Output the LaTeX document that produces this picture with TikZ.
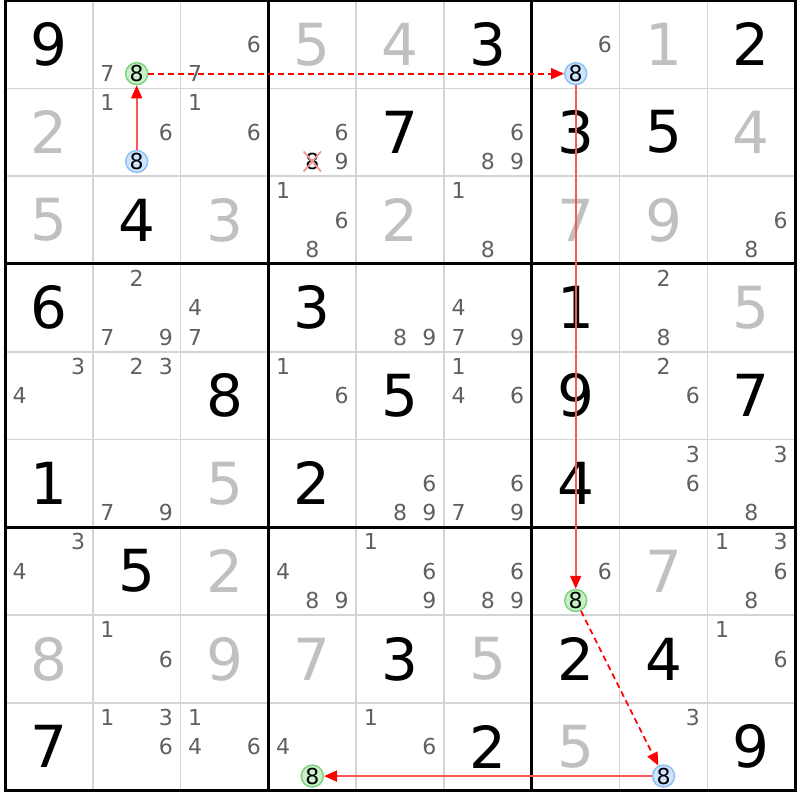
\documentclass[tikz,border=0pt]{standalone}
\usepackage{fontspec}
\setmainfont{DejaVu Sans}
\usetikzlibrary{arrows.meta,shapes.misc}
\definecolor{thingrid}{RGB}{212,212,212}
\definecolor{solvedcol}{RGB}{192,192,192}
\definecolor{candcol}{RGB}{96,96,96}
\definecolor{gfill}{RGB}{200,240,200}
\definecolor{gline}{RGB}{120,210,120}
\definecolor{bfill}{RGB}{204,228,255}
\definecolor{bline}{RGB}{140,190,240}
\definecolor{xpink}{RGB}{245,150,150}
\definecolor{linkred}{RGB}{255,85,85}
\newcommand\placecand[5]{%
  \pgfmathsetmacro\mypx{5+87.8*#2+14.6333*(2*mod(#3-1,3)+1)}%
  \pgfmathsetmacro\mypy{0.5+87.8*#1+14.6333*(2*int((#3-1)/3)+1)}%
  \node[#4] (#5) at (\mypx,\mypy) {#3};}
\begin{document}
\begin{tikzpicture}[x=1pt,y=-1pt,
  givendig/.style={inner sep=0pt, font=\fontsize{58}{58}\selectfont, text=black},
  solveddig/.style={givendig, text=solvedcol},
  canddig/.style={inner sep=0pt, font=\fontsize{22}{22}\selectfont, text=candcol},
  gcirc/.style={circle, draw=gline, fill=gfill, line width=1.4pt, minimum size=22pt, inner sep=0pt, font=\fontsize{22}{22}\selectfont, text=black},
  bcirc/.style={gcirc, draw=bline, fill=bfill},
  elim/.style={cross out, draw=xpink, line width=1.8pt, inner sep=0.8pt, font=\fontsize{22}{22}\selectfont, text=black},
  thinline/.style={draw=thingrid, line width=1.6pt},
  thickline/.style={draw=black, line width=3pt},
  solidlink/.style={draw=linkred, line width=1.7pt, -{Triangle[length=13pt,width=11pt,color=red]}},
  dashlink/.style={draw=red, line width=1.7pt, dash pattern=on 6pt off 4pt, -{Triangle[length=13pt,width=11pt,color=red]}}]
\useasboundingbox (0,0) rectangle (800,800);
\fill[white] (0,0) rectangle (800,800);
% grid
\foreach \k in {1,2,4,5,7,8} {
  \draw[thinline] ({5+87.8*\k},0.5) -- ({5+87.8*\k},790.7);
  \draw[thinline] (5,{0.5+87.8*\k}) -- (795.2,{0.5+87.8*\k});
}
\foreach \k in {3,6} {
  \draw[thickline] ({5+87.8*\k},0.5) -- ({5+87.8*\k},790.7);
  \draw[thickline] (5,{0.5+87.8*\k}) -- (795.2,{0.5+87.8*\k});
}
\draw[thickline] (5,0.5) rectangle (795.2,790.7);
% given digits
\foreach \i/\j/\d in {0/0/9,0/5/3,0/8/2,1/4/7,1/6/3,1/7/5,2/1/4,3/0/6,3/3/3,3/6/1,4/2/8,4/4/5,4/6/9,4/8/7,5/0/1,5/3/2,5/6/4,6/1/5,7/4/3,7/6/2,7/7/4,8/0/7,8/5/2,8/8/9}
  \node[givendig] (v\i\j) at ({5+87.8*\j+43.9},{0.5+87.8*\i+43.9}) {\d};
% solved digits
\foreach \i/\j/\d in {0/3/5,0/4/4,0/7/1,1/0/2,1/8/4,2/0/5,2/2/3,2/4/2,2/6/7,2/7/9,3/8/5,5/2/5,6/2/2,6/7/7,7/0/8,7/2/9,7/3/7,7/5/5,8/6/5}
  \node[solveddig] (s\i\j) at ({5+87.8*\j+43.9},{0.5+87.8*\i+43.9}) {\d};
% candidates
\foreach \i/\j/\ds in {0/1/{7},0/2/{6,7},0/6/{6},1/1/{1,6},1/2/{1,6},1/3/{6,9},1/5/{6,8,9},
  2/3/{1,6,8},2/5/{1,8},2/8/{6,8},3/1/{2,7,9},3/2/{4,7},3/4/{8,9},3/5/{4,7,9},3/7/{2,8},
  4/0/{3,4},4/1/{2,3},4/3/{1,6},4/5/{1,4,6},4/7/{2,6},5/1/{7,9},5/4/{6,8,9},5/5/{6,7,9},
  5/7/{3,6},5/8/{3,8},6/0/{3,4},6/3/{4,8,9},6/4/{1,6,9},6/5/{6,8,9},6/6/{6},6/8/{1,3,6,8},
  7/1/{1,6},7/8/{1,6},8/1/{1,3,6},8/2/{1,4,6},8/3/{4},8/4/{1,6},8/7/{3}}
  {\foreach \d in \ds {\placecand{\i}{\j}{\d}{canddig}{k\i\j\d}}}
% eliminated candidate
\placecand{1}{3}{8}{elim}{x13}
% chain
\placecand{0}{1}{8}{gcirc}{cg01}
\placecand{1}{1}{8}{bcirc}{cb11}
\placecand{0}{6}{8}{bcirc}{cb06}
\placecand{6}{6}{8}{gcirc}{cg66}
\placecand{8}{7}{8}{bcirc}{cb87}
\placecand{8}{3}{8}{gcirc}{cg83}
\draw[solidlink] (cb11) -- (cg01);
\draw[dashlink] (cg01) -- (cb06);
\draw[solidlink] (cb06) -- (cg66);
\draw[dashlink] (cg66) -- (cb87);
\draw[solidlink] (cb87) -- (cg83);
\end{tikzpicture}
\end{document}
